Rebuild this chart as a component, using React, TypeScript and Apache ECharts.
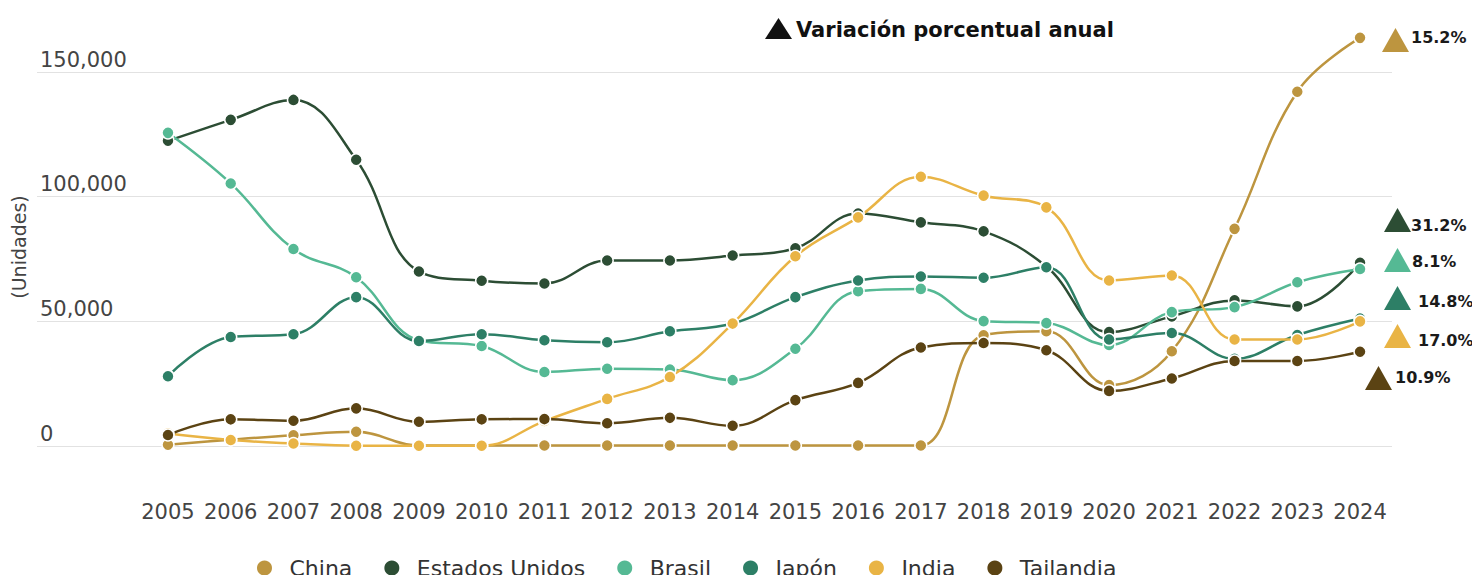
import React, { useEffect, useRef } from "react";
import * as echarts from "echarts";

const years = ["2005","2006","2007","2008","2009","2010","2011","2012","2013","2014","2015","2016","2017","2018","2019","2020","2021","2022","2023","2024"];

const china = [500, 2500, 4300, 5700, 200, 200, 200, 200, 200, 200, 200, 200, 200, 44400, 46000, 24400, 38000, 87100, 142100, 163700];
const estadosUnidos = [122400, 130800, 138800, 114800, 70000, 66300, 65200, 74400, 74400, 76400, 79300, 93200, 89700, 86100, 72000, 45700, 52000, 58400, 56000, 73500];
const brasil = [125600, 105300, 79000, 67700, 42400, 40100, 29700, 31000, 30700, 26400, 39000, 62100, 63000, 50100, 49300, 40500, 53700, 55700, 65700, 71000];
const japon = [28000, 43700, 44800, 59700, 42100, 44800, 42400, 41600, 46000, 49100, 59700, 66400, 68000, 67500, 71700, 42700, 45300, 35000, 44500, 51100];
const india = [5000, 2400, 1000, 100, 100, 100, 10000, 18900, 27700, 49100, 76100, 91700, 108000, 100400, 95700, 66400, 68400, 42700, 42700, 50000];
const tailandia = [4400, 10700, 10100, 15100, 9700, 10700, 10800, 9100, 11300, 8100, 18400, 25300, 39500, 41300, 38400, 22100, 27100, 34100, 34100, 37800];

const seriesNames = ["China", "Estados Unidos", "Brasil", "Japón", "India", "Tailandia"];
const seriesColors = ["#bd953f", "#2c4d34", "#55b994", "#2d7f66", "#e9b445", "#5b4313"];
const seriesData = [china, estadosUnidos, brasil, japon, india, tailandia];
const variation = ["15.2%", "31.2%", "8.1%", "14.8%", "17.0%", "10.9%"];

const FONT = "'DejaVu Sans', Verdana, sans-serif";

export default function App() {
  const ref = useRef<HTMLDivElement>(null);
  useEffect(() => {
    if (!ref.current) return;
    const chart = echarts.init(ref.current, null, { renderer: "svg" });

    const tri = (x: number, yTop: number, w: number, h: number, fill: string) => ({
      type: "polygon",
      shape: { points: [[x, yTop + h], [x + w / 2, yTop], [x + w, yTop + h]] },
      style: { fill },
      silent: true,
    });
    const lbl = (x: number, y: number, text: string) => ({
      type: "text",
      x,
      y,
      style: { text, fontFamily: FONT, fontSize: 16, fontWeight: "bold", fill: "#1a1a1a", align: "left", verticalAlign: "middle" },
      silent: true,
    });

    // annotation positions: [triangle x, triangle top, text x, text y]
    const annPos = [
      [1382, 28, 1411, 37],
      [1384, 208, 1411, 225],
      [1384, 248, 1412, 261],
      [1384, 286, 1418, 301],
      [1384, 324, 1418, 340],
      [1365, 366, 1395, 377],
    ];

    const graphic: any[] = [
      tri(765, 18, 27, 21, "#111"),
      {
        type: "text",
        x: 796,
        y: 30,
        style: { text: "Variación porcentual anual", fontFamily: FONT, fontSize: 21, fontWeight: "bold", fill: "#111", align: "left", verticalAlign: "middle" },
        silent: true,
      },
      {
        type: "text",
        x: 19,
        y: 247,
        rotation: Math.PI / 2,
        style: { text: "(Unidades)", fontFamily: FONT, fontSize: 19, fill: "#444", align: "center", verticalAlign: "middle" },
        silent: true,
      },
    ];
    annPos.forEach((p, i) => {
      graphic.push(tri(p[0], p[1], 27, 24, seriesColors[i]));
      graphic.push(lbl(p[2], p[3], variation[i]));
    });

    chart.setOption({
      animation: false,
      backgroundColor: "#fff",
      textStyle: { fontFamily: FONT },
      grid: [
        { left: 136.6, right: 88.6, top: 72, bottom: 137 },
        { left: 37, right: 88, top: 72, bottom: 137 },
      ],
      xAxis: [
        {
          gridIndex: 0,
          type: "category",
          data: years,
          boundaryGap: true,
          axisLine: { show: false },
          axisTick: { show: false },
          axisLabel: { fontFamily: FONT, fontSize: 21, color: "#444", margin: 55, interval: 0 },
          splitLine: { show: false },
        },
        { gridIndex: 1, type: "value", min: 0, max: 1, show: false },
      ],
      yAxis: [
        { gridIndex: 0, type: "value", min: 0, max: 150000, interval: 50000, show: false },
        {
          gridIndex: 1,
          type: "value",
          min: 0,
          max: 150000,
          interval: 50000,
          axisLine: { show: false },
          axisTick: { show: false },
          splitLine: { show: true, lineStyle: { color: "#e2e2e2", width: 1 } },
          axisLabel: {
            inside: true,
            margin: 3,
            verticalAlign: "bottom",
            padding: [0, 0, 2, 0],
            fontFamily: FONT,
            fontSize: 21,
            color: "#444",
            formatter: (v: number) => v.toLocaleString("en-US"),
          },
        },
      ],
      legend: {
        left: 250,
        top: 552,
        icon: "circle",
        itemWidth: 40,
        itemHeight: 17,
        itemGap: 30,
        textStyle: { fontFamily: FONT, fontSize: 22, color: "#333" },
        data: seriesNames,
      },
      series: seriesNames.map((name, i) => ({
        name,
        type: "line",
        xAxisIndex: 0,
        yAxisIndex: 0,
        data: seriesData[i],
        smooth: 0.4,
        clip: false,
        symbol: "circle",
        symbolSize: 12,
        lineStyle: { color: seriesColors[i], width: 2.5 },
        itemStyle: { color: seriesColors[i], borderColor: "#fff", borderWidth: 1.5 },
        emphasis: { disabled: true },
      })),
      graphic,
    });

    return () => chart.dispose();
  }, []);

  return <div ref={ref} style={{ width: 1480, height: 583, margin: -8 }} />;
}
